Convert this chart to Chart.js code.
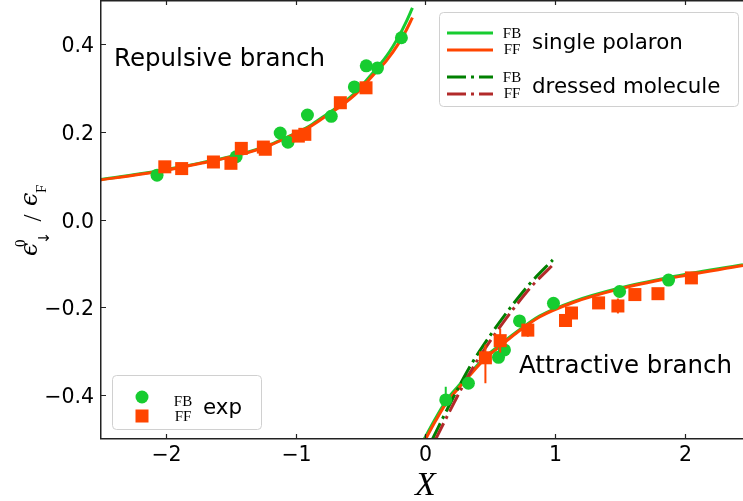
<!DOCTYPE html>
<html>
<head>
<meta charset="utf-8">
<script src="https://cdn.jsdelivr.net/npm/chart.js@4.4.1/dist/chart.umd.min.js"></script>
<style>
  body { margin: 0; background: #fff; }
  canvas { display: block; }
</style>
</head>
<body>
<canvas id="polaron-chart" width="743" height="501"></canvas>
<script>
// axis ticks
var xTicks = [-2, -1, 0, 1, 2];
var yTicks = [-0.4, -0.2, 0.0, 0.2, 0.4];

// single polaron, repulsive branch (X < 0)
var repX  = [-2.51, -2.2, -1.9, -1.7, -1.45, -1.2, -1.05, -0.9, -0.8, -0.65, -0.53, -0.4, -0.3, -0.2, -0.15, -0.1];
var repFB = [0.091, 0.104, 0.119, 0.131, 0.147, 0.170, 0.190, 0.212, 0.232, 0.262, 0.292, 0.336, 0.372, 0.420, 0.449, 0.482];
var repFF = [0.090, 0.103, 0.118, 0.130, 0.146, 0.169, 0.189, 0.210, 0.229, 0.259, 0.288, 0.330, 0.362, 0.404, 0.430, 0.460];

// single polaron, attractive branch (X > 0)
var attX  = [-0.02, 0.08, 0.16, 0.25, 0.33, 0.46, 0.57, 0.7, 0.88, 1.14, 1.5, 1.88, 2.45];
var attFB = [-0.506, -0.452, -0.413, -0.381, -0.355, -0.314, -0.287, -0.257, -0.220, -0.187, -0.156, -0.132, -0.103];
var attFF = [-0.512, -0.458, -0.419, -0.386, -0.359, -0.317, -0.290, -0.259, -0.222, -0.189, -0.158, -0.134, -0.105];

// dressed molecule
var molFBX = [0.05, 0.2, 0.35, 0.5, 0.65, 0.8, 0.983];
var molFB  = [-0.503, -0.414, -0.332, -0.264, -0.203, -0.148, -0.092];
var molFFX = [0.075, 0.22, 0.37, 0.52, 0.67, 0.82, 0.995];
var molFF  = [-0.503, -0.418, -0.336, -0.268, -0.207, -0.152, -0.100];

// experiment, FB (circles)
var expFBX  = [-2.07, -1.46, -1.12, -1.06, -0.91, -0.726, -0.548, -0.456, -0.37, -0.185, 0.157, 0.332, 0.564, 0.61, 0.726, 0.988, 1.498, 1.876];
var expFBY  = [0.101, 0.143, 0.197, 0.176, 0.238, 0.235, 0.302, 0.350, 0.345, 0.414, -0.411, -0.373, -0.314, -0.297, -0.231, -0.191, -0.164, -0.138];
var expFBLo = [0, 0, 0, 0, 0, 0, 0, 0, 0, 0, 0.012, 0, 0, 0, 0, 0, 0, 0];
var expFBHi = [0, 0, 0, 0, 0, 0, 0, 0, 0, 0, 0.03, 0, 0, 0, 0, 0, 0, 0];

// experiment, FF (squares)
var expFFX  = [-2.01, -1.88, -1.635, -1.50, -1.42, -1.25, -1.235, -0.98, -0.93, -0.656, -0.458, 0.463, 0.577, 0.79, 1.081, 1.127, 1.336, 1.485, 1.616, 1.794, 2.052];
var expFFY  = [0.120, 0.116, 0.131, 0.128, 0.162, 0.165, 0.160, 0.190, 0.194, 0.266, 0.300, -0.315, -0.276, -0.252, -0.230, -0.213, -0.190, -0.197, -0.171, -0.169, -0.133];
var expFFLo = [0, 0, 0, 0, 0, 0, 0, 0, 0, 0, 0, 0.058, 0.027, 0.015, 0, 0, 0, 0.017, 0, 0, 0];
var expFFHi = [0, 0, 0, 0, 0, 0, 0, 0, 0, 0, 0, 0.030, 0.027, 0.015, 0, 0, 0, 0.017, 0, 0, 0];

var cFB = '#17cc30';
var cFF = '#ff4500';
var cMolFB = '#008000';
var cMolFF = '#b22a2a';
var dashDot = [19, 5, 3, 5];

function pts(xs, ys) {
  return xs.map(function (x, i) { return {x: x, y: ys[i]}; });
}

function minus(s) {
  return String(s).replace('-', '\u2212');
}

function lineSet(data, color, order, dash) {
  return {
    data: data,
    showLine: true,
    borderColor: color,
    borderWidth: 3,
    borderDash: dash || [],
    borderCapStyle: 'butt',
    pointRadius: 0,
    fill: false,
    cubicInterpolationMode: 'monotone',
    order: order
  };
}

// error bars, drawn just before their markers
var errorBars = {
  id: 'errorBars',
  beforeDatasetDraw: function (chart, args) {
    var ds = chart.data.datasets[args.index];
    if (!ds.errLo) return;
    var ctx = chart.ctx, xs = chart.scales.x, ys = chart.scales.y;
    ctx.save();
    ctx.strokeStyle = ds.backgroundColor;
    ctx.lineWidth = 2;
    ds.data.forEach(function (p, i) {
      if (!ds.errLo[i] && !ds.errHi[i]) return;
      var px = xs.getPixelForValue(p.x);
      ctx.beginPath();
      ctx.moveTo(px, ys.getPixelForValue(p.y - ds.errLo[i]));
      ctx.lineTo(px, ys.getPixelForValue(p.y + ds.errHi[i]));
      ctx.stroke();
    });
    ctx.restore();
  }
};

function drawLegendBox(ctx, x, y, w, h) {
  ctx.save();
  ctx.fillStyle = 'rgba(255,255,255,0.8)';
  ctx.strokeStyle = '#d0d0d0';
  ctx.lineWidth = 1;
  ctx.beginPath();
  ctx.roundRect(x + 0.5, y + 0.5, w, h, 4);
  ctx.fill();
  ctx.stroke();
  ctx.restore();
}

function drawPair(ctx, cx, y1, y2) {
  ctx.font = '15px "Liberation Serif"';
  ctx.textAlign = 'center';
  ctx.textBaseline = 'alphabetic';
  ctx.fillText('FB', cx, y1);
  ctx.fillText('FF', cx, y2);
}

function legendLine(ctx, x1, x2, y, color, dash) {
  ctx.save();
  ctx.strokeStyle = color;
  ctx.lineWidth = 3;
  ctx.lineCap = 'butt';
  ctx.setLineDash(dash || []);
  ctx.beginPath();
  ctx.moveTo(x1, y);
  ctx.lineTo(x2, y);
  ctx.stroke();
  ctx.restore();
}

var decorations = {
  id: 'decorations',
  afterDraw: function (chart) {
    var ctx = chart.ctx, a = chart.chartArea;
    var xs = chart.scales.x, ys = chart.scales.y;
    ctx.save();

    // spines (right one is cut off in the figure)
    ctx.strokeStyle = '#222';
    ctx.lineWidth = 1.5;
    ctx.beginPath();
    ctx.moveTo(a.left + 0.75, a.top + 0.75);
    ctx.lineTo(a.right, a.top + 0.75);
    ctx.moveTo(a.left + 0.75, a.top);
    ctx.lineTo(a.left + 0.75, a.bottom);
    ctx.moveTo(a.left, a.bottom - 0.25);
    ctx.lineTo(a.right, a.bottom - 0.25);
    ctx.stroke();

    // inward ticks and tick labels
    ctx.lineWidth = 1.2;
    ctx.fillStyle = '#000';
    ctx.font = '20.5px "DejaVu Sans"';
    ctx.textBaseline = 'alphabetic';
    ctx.beginPath();
    ctx.textAlign = 'center';
    xTicks.forEach(function (v) {
      var px = Math.round(xs.getPixelForValue(v)) + 0.5;
      ctx.moveTo(px, a.bottom); ctx.lineTo(px, a.bottom - 5);
      ctx.moveTo(px, a.top); ctx.lineTo(px, a.top + 5);
      ctx.fillText(minus(v.toFixed(0)), px, a.bottom + 22);
    });
    ctx.textAlign = 'right';
    yTicks.forEach(function (v) {
      var py = Math.round(ys.getPixelForValue(v)) + 0.5;
      ctx.moveTo(a.left, py); ctx.lineTo(a.left + 6, py);
      ctx.fillText(minus(v.toFixed(1)), a.left - 6, py + 7.5);
    });
    ctx.stroke();

    // branch labels
    ctx.font = '24.5px "DejaVu Sans"';
    ctx.textAlign = 'left';
    ctx.fillText('Repulsive branch', 114, 66);
    ctx.fillText('Attractive branch', 519, 373);

    // x axis title
    ctx.font = 'italic 34px "Liberation Serif"';
    ctx.textAlign = 'center';
    ctx.fillText('X', xs.getPixelForValue(0), 495);

    // y axis title: eps_down^0 / eps_F
    ctx.save();
    ctx.translate(37, 218);
    ctx.rotate(-Math.PI / 2);
    ctx.textAlign = 'left';
    ctx.font = 'italic 24px "DejaVu Serif"';
    ctx.fillText('\u03F5', -38, 0);
    ctx.font = '15px "Liberation Serif"';
    ctx.fillText('0', -29, -12);
    ctx.font = '15px "DejaVu Sans"';
    ctx.textAlign = 'center';
    ctx.fillText('\u2193', -20, 12);
    ctx.font = '25px "Liberation Serif"';
    ctx.fillText('/', 0, 4);
    ctx.textAlign = 'left';
    ctx.font = 'italic 24px "DejaVu Serif"';
    ctx.fillText('\u03F5', 12, 0);
    ctx.font = '15px "Liberation Serif"';
    ctx.fillText('F', 25, 9);
    ctx.restore();

    // upper legend: theory curves
    drawLegendBox(ctx, 439, 12, 299, 94);
    legendLine(ctx, 447, 493, 33, cFB);
    legendLine(ctx, 447, 493, 50, cFF);
    legendLine(ctx, 447, 493, 77, cMolFB, dashDot);
    legendLine(ctx, 447, 493, 94, cMolFF, dashDot);
    ctx.fillStyle = '#000';
    drawPair(ctx, 512, 38, 54);
    drawPair(ctx, 512, 82, 98);
    ctx.font = '21.4px "DejaVu Sans"';
    ctx.textAlign = 'left';
    ctx.fillText('single polaron', 532, 48.5);
    ctx.fillText('dressed molecule', 532, 93);

    // lower legend: experiment
    drawLegendBox(ctx, 112, 375, 149, 54);
    ctx.fillStyle = cFB;
    ctx.beginPath();
    ctx.arc(142, 397, 6.5, 0, 2 * Math.PI);
    ctx.fill();
    ctx.fillStyle = cFF;
    ctx.fillRect(135.5, 409.5, 13, 13);
    ctx.fillStyle = '#000';
    drawPair(ctx, 183, 406, 421);
    ctx.font = '21.4px "DejaVu Sans"';
    ctx.textAlign = 'left';
    ctx.fillText('exp', 203, 414);

    ctx.restore();
  }
};

new Chart(document.getElementById('polaron-chart'), {
  type: 'scatter',
  data: {
    datasets: [
      lineSet(pts(repX, repFB), cFB, 7),
      lineSet(pts(repX, repFF), cFF, 6),
      lineSet(pts(attX, attFB), cFB, 5),
      lineSet(pts(attX, attFF), cFF, 4),
      lineSet(pts(molFBX, molFB), cMolFB, 3, dashDot),
      lineSet(pts(molFFX, molFF), cMolFF, 2, dashDot),
      {
        data: pts(expFBX, expFBY),
        errLo: expFBLo, errHi: expFBHi,
        pointStyle: 'circle', pointRadius: 6.5, borderWidth: 0,
        backgroundColor: cFB, borderColor: cFB, order: 1
      },
      {
        data: pts(expFFX, expFFY),
        errLo: expFFLo, errHi: expFFHi,
        pointStyle: 'rect', pointRadius: 9.2, borderWidth: 0,
        backgroundColor: cFF, borderColor: cFF, order: 0
      }
    ]
  },
  options: {
    responsive: false,
    animation: false,
    devicePixelRatio: 1,
    layout: { autoPadding: false, padding: { left: 100, right: 0, top: 0, bottom: 62 } },
    plugins: { legend: { display: false }, tooltip: { enabled: false } },
    scales: {
      x: { type: 'linear', display: false, min: -2.51, max: 2.45 },
      y: { type: 'linear', display: false, min: -0.5, max: 0.5 }
    }
  },
  plugins: [errorBars, decorations]
});
</script>
</body>
</html>
